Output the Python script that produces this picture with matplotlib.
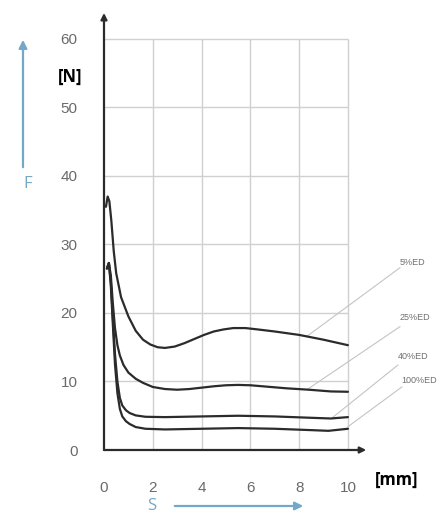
import matplotlib
matplotlib.use("Agg")
import matplotlib.pyplot as plt

# ---- data ----
x_ticks = [0, 2, 4, 6, 8, 10]
y_ticks = [0, 10, 20, 30, 40, 50, 60]

curve_names = ["5%ED", "25%ED", "40%ED", "100%ED"]

s_5 = [0.08, 0.15, 0.22, 0.3, 0.4, 0.5, 0.7, 1.0, 1.3, 1.6, 1.9, 2.2, 2.5, 2.9, 3.3, 3.7, 4.1, 4.5,
       4.9, 5.3, 5.8, 6.3, 7.0, 8.0, 9.0, 10.0]
f_5 = [35.5, 37.0, 36.3, 33.5, 29.0, 25.8, 22.3, 19.5, 17.4, 16.1, 15.4, 15.0, 14.9, 15.1, 15.6, 16.2,
       16.8, 17.3, 17.6, 17.8, 17.8, 17.6, 17.3, 16.8, 16.1, 15.3]

s_25 = [0.12, 0.2, 0.28, 0.36, 0.45, 0.55, 0.65, 0.8, 1.0, 1.3, 1.6, 2.0, 2.5, 3.0, 3.5, 4.0, 4.5, 5.0,
        5.5, 6.0, 6.5, 7.5, 8.4, 9.3, 10.0]
f_25 = [26.5, 27.3, 25.5, 21.5, 17.8, 15.3, 13.8, 12.4, 11.3, 10.4, 9.8, 9.2, 8.9, 8.8, 8.9, 9.1, 9.3, 9.45,
        9.5, 9.45, 9.3, 9.0, 8.8, 8.55, 8.5]

s_40 = [0.12, 0.2, 0.28, 0.36, 0.45, 0.55, 0.65, 0.75, 0.9, 1.05, 1.3, 1.7, 2.5, 4.0, 5.5, 7.0, 8.5,
        9.3, 10.0]
f_40 = [26.5, 27.3, 24.5, 19.5, 14.0, 10.0, 7.6, 6.5, 5.8, 5.4, 5.05, 4.85, 4.8, 4.9, 5.0, 4.9, 4.7,
        4.6, 4.8]

s_100 = [0.12, 0.2, 0.28, 0.36, 0.45, 0.55, 0.65, 0.75, 0.9, 1.05, 1.3, 1.7, 2.5, 4.0, 5.5, 7.0, 8.5,
         9.2, 10.0]
f_100 = [26.5, 27.3, 24.0, 18.5, 12.5, 8.3, 6.0, 4.9, 4.2, 3.8, 3.35, 3.1, 3.0, 3.1, 3.2, 3.1, 2.9,
         2.8, 3.1]

# label text position and leader line end on the curve
label_pos = [(12.13, 27.4), (12.13, 19.3), (12.05, 13.6), (12.2, 10.2)]
leader_start = [(12.13, 26.6), (12.13, 18.0), (12.05, 12.4), (12.21, 9.2)]
leader_end = [(8.32, 16.6), (8.36, 8.9), (9.39, 4.8), (10.0, 3.4)]

blue = "#72a9c9"
ink = "#2b2b2b"
grid_c = "#d0d0d0"

W, H = 445, 519
fig = plt.figure(figsize=(W / 100, H / 100), dpi=100)
ax = fig.add_axes([104 / W, 69 / H, 261 / W, 435 / H])
ax.set_xlim(0, 10.7)
ax.set_ylim(0, 63.5)
for sp in ax.spines.values():
    sp.set_visible(False)

# grid, only over the 0..10 x 0..60 area
ax.hlines(y_ticks[1:], 0, 10, color=grid_c, lw=1.0, zorder=1)
ax.vlines(x_ticks[1:], 0, 60, color=grid_c, lw=1.0, zorder=1)

# axes with arrow heads
ax.annotate("", xy=(0, 63.8), xytext=(0, 0),
            arrowprops=dict(arrowstyle="-|>", color=ink, lw=1.6,
                            mutation_scale=9, shrinkA=0, shrinkB=0),
            annotation_clip=False)
ax.annotate("", xy=(10.75, 0), xytext=(0, 0),
            arrowprops=dict(arrowstyle="-|>", color=ink, lw=1.6,
                            mutation_scale=9, shrinkA=0, shrinkB=0),
            annotation_clip=False)

series = [(s_5, f_5), (s_25, f_25), (s_40, f_40), (s_100, f_100)]
for s, f in series:
    ax.plot(s, f, color=ink, lw=1.6, zorder=3, solid_capstyle="round",
            solid_joinstyle="round")

for name, p, a, b in zip(curve_names, label_pos, leader_start, leader_end):
    ax.plot([a[0], b[0]], [a[1], b[1]], color="#c4c4c4", lw=0.8,
            clip_on=False, zorder=2)
    ax.text(p[0], p[1], name, fontsize=6.5, color="#707070",
            family="Liberation Sans", ha="left", va="center",
            clip_on=False)

ax.set_xticks(x_ticks)
ax.set_yticks(y_ticks)
ax.set_xticklabels([str(v) for v in x_ticks])
ax.set_yticklabels([str(v) for v in y_ticks])
ax.tick_params(axis="both", length=0, labelsize=11, labelcolor="#6a6a6a")
ax.tick_params(axis="x", pad=22)
ax.tick_params(axis="y", pad=19)
for lab in ax.get_xticklabels() + ax.get_yticklabels():
    lab.set_family("Liberation Sans")

# units
ax.text(11.1, -4.4, "[mm]", fontsize=12, fontweight="bold", family="Open Sans",
        ha="left", va="center", clip_on=False)
ax.text(-1.4, 54.5, "[N]", fontsize=12, fontweight="bold", family="Open Sans",
        ha="center", va="center", clip_on=False)

# F and S direction arrows
fig.text(28 / W, 1 - 184 / H, "F", fontsize=12, color=blue, family="Open Sans",
         ha="center", va="center")
fig.patches.append(matplotlib.patches.FancyArrowPatch(
    (23 / W, 1 - 170 / H), (23 / W, 1 - 37 / H), transform=fig.transFigure,
    arrowstyle="-|>", mutation_scale=12, color=blue, lw=1.6))
fig.text(152 / W, 1 - 506 / H, "S", fontsize=12, color=blue, family="Open Sans",
         ha="center", va="center")
fig.patches.append(matplotlib.patches.FancyArrowPatch(
    (172 / W, 1 - 506 / H), (306 / W, 1 - 506 / H), transform=fig.transFigure,
    arrowstyle="-|>", mutation_scale=12, color=blue, lw=1.6))

fig.savefig("out.png", dpi=100)
